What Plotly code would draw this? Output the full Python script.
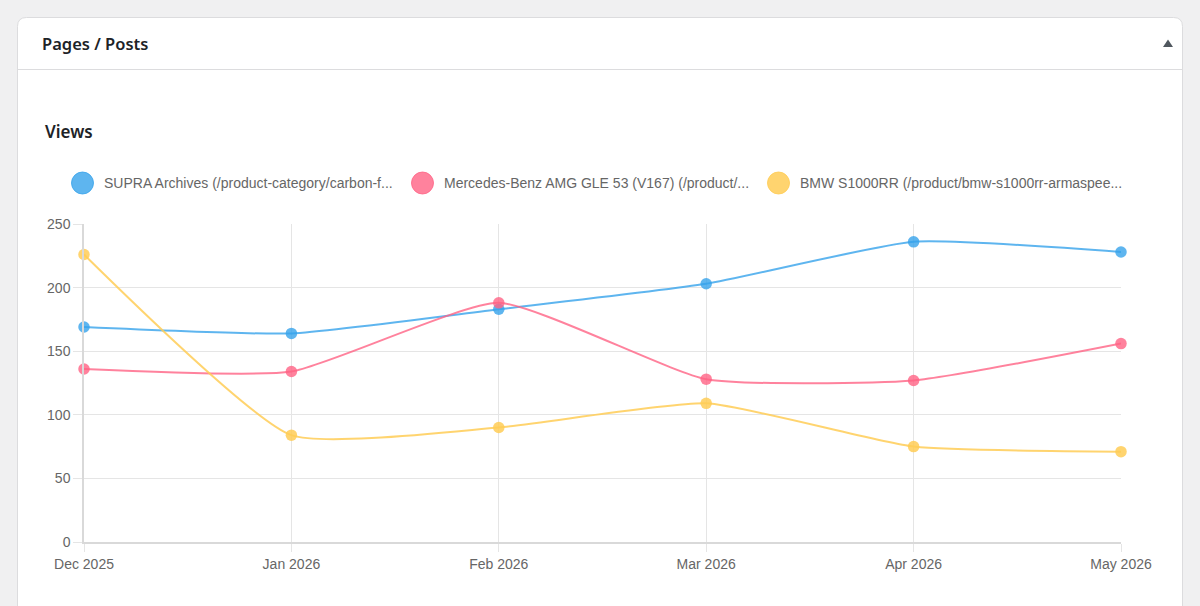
import plotly.graph_objects as go

# ---- data ----
months = ["Dec 2025", "Jan 2026", "Feb 2026", "Mar 2026", "Apr 2026", "May 2026"]
series_names = [
    "SUPRA Archives (/product-category/carbon-f...",
    "Mercedes-Benz AMG GLE 53 (V167) (/product/...",
    "BMW S1000RR (/product/bmw-s1000rr-armaspee...",
]
supra_views = [169, 164, 183, 203, 236, 228]
mercedes_views = [136, 134, 188, 128, 127, 156]
bmw_views = [226, 84, 90, 109, 75, 71]
y_ticks = [0, 50, 100, 150, 200, 250]

series_values = [supra_views, mercedes_views, bmw_views]
line_colors = ["rgba(54,162,235,0.8)", "rgba(255,99,132,0.8)", "rgba(255,205,86,0.85)"]

W, H = 1200, 606
L, R, T, B = 84, 1121, 224, 542  # plot area pixel box


def px(x):
    return (x - L) / (R - L)


def py(y):
    return (B - y) / (B - T)


fig = go.Figure()
xs = list(range(len(months)))
for name, vals, lc in zip(series_names, series_values, line_colors):
    fig.add_trace(go.Scatter(
        x=xs, y=vals, name=name, mode="lines+markers",
        line=dict(color=lc, width=2, shape="spline", smoothing=0.5),
        marker=dict(color=lc, size=11.5),
        cliponaxis=False, showlegend=False,
        hovertemplate="%{y}<extra>" + name + "</extra>",
    ))

shapes = []
annotations = []

# card background with rounded top corners
cl, ct, cr, cb, rad = 17.5, 17.5, 1182.5, 640, 9
path = (f"M {px(cl)},{py(cb)} L {px(cl)},{py(ct + rad)} "
        f"Q {px(cl)},{py(ct)} {px(cl + rad)},{py(ct)} "
        f"L {px(cr - rad)},{py(ct)} Q {px(cr)},{py(ct)} {px(cr)},{py(ct + rad)} "
        f"L {px(cr)},{py(cb)} Z")
shapes.append(dict(type="path", xref="paper", yref="paper", path=path,
                   fillcolor="white", line=dict(color="#dcdcde", width=1), layer="below"))
# header divider
shapes.append(dict(type="line", xref="paper", yref="paper", x0=px(cl), x1=px(cr),
                   y0=py(69.5), y1=py(69.5), line=dict(color="#dcdcde", width=1), layer="below"))
# collapse triangle
tri = (f"M {px(1163)},{py(47)} L {px(1173)},{py(47)} L {px(1168)},{py(39.5)} Z")
shapes.append(dict(type="path", xref="paper", yref="paper", path=tri,
                   fillcolor="#50575e", line=dict(width=0), layer="above"))

annotations.append(dict(text="Pages / Posts", xref="paper", yref="paper", x=px(40), y=py(44),
                        xanchor="left", yanchor="middle", showarrow=False,
                        font=dict(family="Noto Sans", size=16.5, color="#1d2327", weight=600)))
annotations.append(dict(text="Views", xref="paper", yref="paper", x=px(43), y=py(131),
                        xanchor="left", yanchor="middle", showarrow=False,
                        font=dict(family="Noto Sans", size=17, color="#1d2327", weight=600)))

# legend (manual, large circles)
legend_circle_x = [82.5, 422.5, 778.5]
legend_y = 183
rr = 11
for name, cx, lc in zip(series_names, legend_circle_x, line_colors):
    shapes.append(dict(type="circle", xref="paper", yref="paper",
                       x0=px(cx - rr), x1=px(cx + rr), y0=py(legend_y + rr), y1=py(legend_y - rr),
                       fillcolor=lc, line=dict(color=lc, width=1)))
    annotations.append(dict(text=name, xref="paper", yref="paper", x=px(cx + 19.5), y=py(legend_y),
                            xanchor="left", yanchor="middle", showarrow=False,
                            font=dict(family="Liberation Sans, Arial", size=14, color="#666666")))

fig.update_layout(
    width=W, height=H, autosize=False,
    margin=dict(l=L, r=W - R, t=T, b=H - B, pad=0),
    paper_bgcolor="#f0f0f1", plot_bgcolor="white",
    shapes=shapes, annotations=annotations, showlegend=False,
    font=dict(family="Liberation Sans, Arial", size=14, color="#666666"),
    xaxis=dict(range=[0, len(months) - 1], tickvals=xs, ticktext=months,
               showgrid=True, gridcolor="#e5e5e5", gridwidth=1,
               showline=True, linecolor="#d9d9d9", linewidth=1.5,
               ticks="outside", ticklen=8, tickcolor="#e5e5e5",
               zeroline=False, tickfont=dict(size=14, color="#666666"), fixedrange=True),
    yaxis=dict(range=[0, 250], tickvals=y_ticks,
               showgrid=True, gridcolor="#e5e5e5", gridwidth=1,
               showline=True, linecolor="#d9d9d9", linewidth=1.5,
               ticks="outside", ticklen=9, tickcolor="#e5e5e5",
               zeroline=False, tickfont=dict(size=14, color="#666666"), fixedrange=True),
)

fig.write_html("out.html")
